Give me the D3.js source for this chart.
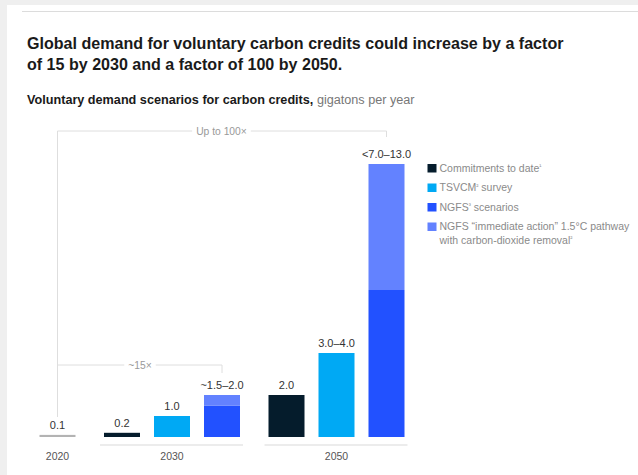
<!DOCTYPE html>
<html>
<head>
<meta charset="utf-8">
<script src="https://cdn.jsdelivr.net/npm/d3@7/dist/d3.min.js"></script>
<style>
  html, body { margin: 0; padding: 0; background: #efefef; }
  svg { display: block; }
  text { font-family: "Liberation Sans", Arial, Helvetica, sans-serif; }
</style>
</head>
<body>
<svg id="chart" width="638" height="475"></svg>
<script>
// ---------- data ----------
const years = ["2020", "2030", "2050"];
const barYear = ["2020", "2030", "2030", "2030", "2050", "2050", "2050"];
const barSeries = ["base", "commit", "tsvcm", "ngfs", "commit", "tsvcm", "ngfs"];
const baseValues = [0.1, 0.2, 1.0, 1.5, 2.0, 4.0, 7.0];
const extraValues = [0, 0, 0, 0.5, 0, 0, 6.0];
const barLabels = ["0.1", "0.2", "1.0", "~1.5–2.0", "2.0", "3.0–4.0", "<7.0–13.0"];
const seriesKeys = ["commit", "tsvcm", "ngfs", "immediate"];
const legendLabels = [
  ["Commitments to date", "¹"],
  ["TSVCM", "²", " survey"],
  ["NGFS", "³", " scenarios"],
  ["NGFS “immediate action” 1.5°C pathway", "", "", "with carbon-dioxide removal", "²"]
];
const seriesColors = { base: "#b3b3b3", commit: "#051c2c", tsvcm: "#00a9f4", ngfs: "#2251ff", immediate: "#6382ff" };
const titleLines = ["Global demand for voluntary carbon credits could increase by a factor", "of 15 by 2030 and a factor of 100 by 2050."];
const subtitleBold = "Voluntary demand scenarios for carbon credits,";
const subtitleRest = " gigatons per year";
const bracketLabels = ["Up to 100×", "~15×"];

// ---------- layout ----------
const svg = d3.select("#chart");
svg.append("rect").attr("x", 7).attr("y", 5).attr("width", 640).attr("height", 480).attr("fill", "#fff");
svg.append("line").attr("x1", 22).attr("x2", 638).attr("y1", 11.5).attr("y2", 11.5).attr("stroke", "#dcdcdc").attr("stroke-width", 1);

// title
const title = svg.append("text").attr("x", 27).attr("y", 48.5).attr("fill", "#1a1a1a").attr("font-weight", "bold").attr("font-size", 16);
titleLines.forEach((t, i) => title.append("tspan").attr("x", 27).attr("dy", i === 0 ? 0 : 21).text(t));
{
  const w = title.select("tspan").node().getComputedTextLength();
  title.attr("font-size", 16 * 537 / w);
}
// subtitle
const sub = svg.append("text").attr("x", 27).attr("y", 104).attr("font-size", 11);
sub.append("tspan").attr("font-weight", "bold").attr("fill", "#1a1a1a").text(subtitleBold);
sub.append("tspan").attr("fill", "#777").text(subtitleRest);
{
  const w = sub.node().getComputedTextLength();
  sub.attr("font-size", 11 * 388 / w);
}

// scales
const slotPos = barYear.map((yr, i) => i + years.indexOf(yr) * 0.29);
const x = d3.scaleLinear().domain([0, 1]).range([57.5, 107.5]);
const bw = (x(1) - x(0)) * 0.72;
const y = d3.scaleLinear().domain([0, 13]).range([437, 164]);

const idx = d3.range(barYear.length);

// group baselines
years.forEach(yr => {
  const members = idx.filter(i => barYear[i] === yr);
  if (members.length < 2) return;
  const x0 = x(slotPos[members[0]]) - bw / 2 - 4;
  const x1 = x(slotPos[members[members.length - 1]]) + bw / 2 + 3;
  svg.append("line").attr("x1", x0).attr("x2", x1).attr("y1", y(0) + 8).attr("y2", y(0) + 8)
    .attr("stroke", "#e6e6e6").attr("stroke-width", 1.5);
});

// bars
const g = svg.append("g");
g.selectAll("rect.base").data(idx).join("rect").attr("class", "base")
  .attr("x", i => x(slotPos[i]) - bw / 2)
  .attr("width", bw)
  .attr("y", i => y(baseValues[i]))
  .attr("height", i => y(0) - y(baseValues[i]))
  .attr("fill", i => seriesColors[barSeries[i]]);
g.selectAll("rect.extra").data(idx.filter(i => extraValues[i] > 0)).join("rect").attr("class", "extra")
  .attr("x", i => x(slotPos[i]) - bw / 2)
  .attr("width", bw)
  .attr("y", i => y(baseValues[i] + extraValues[i]))
  .attr("height", i => y(baseValues[i]) - y(baseValues[i] + extraValues[i]))
  .attr("fill", seriesColors.immediate);

// value labels
g.selectAll("text.val").data(idx).join("text").attr("class", "val")
  .attr("x", i => x(slotPos[i]))
  .attr("y", i => y(baseValues[i] + extraValues[i]) - 6)
  .attr("text-anchor", "middle").attr("font-size", 11).attr("fill", "#333")
  .text(i => barLabels[i]);

// year labels
years.forEach(yr => {
  const members = idx.filter(i => barYear[i] === yr);
  const cx = d3.mean(members, i => x(slotPos[i]));
  svg.append("text").attr("x", cx).attr("y", 460).attr("text-anchor", "middle")
    .attr("font-size", 10.5).attr("fill", "#555").text(yr);
});

// brackets
const bc = "#dedede";
const xL = x(slotPos[0]);
const x100 = x(slotPos[6]);
const x15 = x(slotPos[3]);
const yTop = 131, y15 = 365;
function hBracket(yy, xa, xb, label, cx, tickBottom) {
  const t = svg.append("text").attr("x", cx).attr("y", yy + 3.5)
    .attr("text-anchor", "middle").attr("font-size", 10.3).attr("fill", "#999").text(label);
  const bb = t.node().getBBox();
  svg.append("line").attr("x1", xa).attr("x2", bb.x - 4).attr("y1", yy).attr("y2", yy).attr("stroke", bc);
  svg.append("line").attr("x1", bb.x + bb.width + 4).attr("x2", xb).attr("y1", yy).attr("y2", yy).attr("stroke", bc);
  svg.append("line").attr("x1", xb).attr("x2", xb).attr("y1", yy).attr("y2", tickBottom).attr("stroke", bc);
}
svg.append("line").attr("x1", xL).attr("x2", xL).attr("y1", yTop).attr("y2", 417).attr("stroke", bc);
hBracket(yTop, xL, x100, bracketLabels[0], 221.5, 137);
hBracket(y15, xL, x15, bracketLabels[1], 140, 373);

// legend
const lg = svg.append("g").attr("transform", "translate(427.5,164)");
const rowY = [0, 19.5, 39, 58.5];
const lfs = 10.5;
seriesKeys.forEach((k, i) => {
  lg.append("rect").attr("x", 0).attr("y", rowY[i]).attr("width", 9).attr("height", 8.5).attr("fill", seriesColors[k]);
  const parts = legendLabels[i];
  const t = lg.append("text").attr("x", 12).attr("y", rowY[i] + 7.8).attr("font-size", lfs).attr("fill", "#8a8a8a");
  t.append("tspan").text(parts[0]);
  if (parts[1]) t.append("tspan").attr("font-size", 6.5).attr("dy", -3.5).text(parts[1]);
  if (parts[2]) t.append("tspan").attr("dy", parts[1] ? 3.5 : 0).text(parts[2]);
  if (parts[3]) {
    const t2 = lg.append("text").attr("x", 12).attr("y", rowY[i] + 7.8 + 13.5).attr("font-size", lfs).attr("fill", "#8a8a8a");
    t2.append("tspan").text(parts[3]);
    if (parts[4]) t2.append("tspan").attr("font-size", 6.5).attr("dy", -3.5).text(parts[4]);
  }
});
</script>
</body>
</html>
